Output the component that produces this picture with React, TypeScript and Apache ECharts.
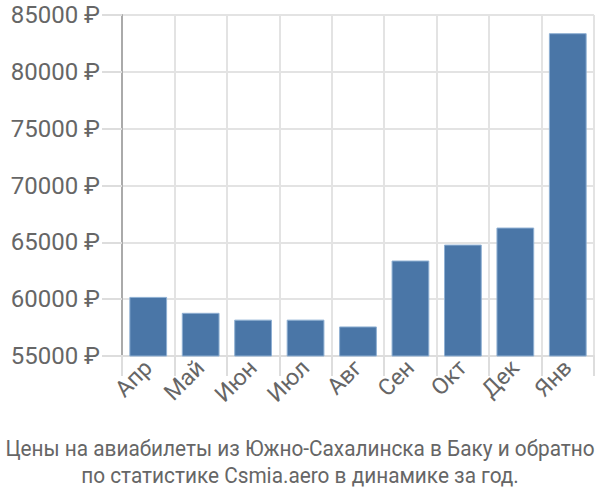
import React, { useEffect, useRef } from "react";
import * as echarts from "echarts";

const categories = ["Апр", "Май", "Июн", "Июл", "Авг", "Сен", "Окт", "Дек", "Янв"];
const prices = [60200, 58800, 58200, 58200, 57600, 63400, 64800, 66300, 83400];
const titleLines = [
  "Цены на авиабилеты из Южно-Сахалинска в Баку и обратно",
  "по статистике Csmia.aero в динамике за год.",
];

export default function App() {
  const ref = useRef<HTMLDivElement>(null);
  useEffect(() => {
    document.body.style.margin = "0";
    if (!ref.current) return;
    const chart = echarts.init(ref.current, null, { renderer: "svg" });
    const titleStyle = {
      fontFamily: "Liberation Sans Narrow, Roboto, sans-serif",
      fontSize: 22,
      fill: "#666",
      textAlign: "center",
      textVerticalAlign: "middle",
    };
    chart.setOption({
      animation: false,
      graphic: [
        {
          type: "text",
          x: 300,
          y: 448,
          scaleX: 0.945,
          style: { ...titleStyle, text: titleLines[0] },
        },
        {
          type: "text",
          x: 300,
          y: 475,
          scaleX: 0.945,
          style: { ...titleStyle, text: titleLines[1] },
        },
      ],
      grid: { left: 122, right: 6, top: 15, bottom: 144 },
      xAxis: {
        type: "category",
        data: categories,
        boundaryGap: true,
        axisLine: { show: true, lineStyle: { color: "#ddd", width: 2 } },
        axisTick: { show: true, length: 20, lineStyle: { color: "#ddd", width: 2 } },
        splitLine: { show: true, lineStyle: { color: "#e3e3e3", width: 2 } },
        axisLabel: {
          rotate: 45,
          margin: 8,
          fontFamily: "Roboto, sans-serif",
          fontSize: 23,
          color: "#666",
        },
      },
      yAxis: {
        type: "value",
        min: 55000,
        max: 85000,
        interval: 5000,
        axisLine: { show: true, lineStyle: { color: "#aaa", width: 2 } },
        axisTick: { show: true, length: 20, lineStyle: { color: "#ddd", width: 2 } },
        splitLine: { show: true, lineStyle: { color: "#e3e3e3", width: 2 } },
        axisLabel: {
          formatter: (v: number) => v + " ₽",
          margin: 22,
          fontFamily: "Roboto, sans-serif",
          fontSize: 24,
          color: "#666",
        },
      },
      series: [
        {
          type: "bar",
          data: prices,
          barWidth: "72%",
          itemStyle: { color: "#4a76a7", borderColor: "#8fb0d3", borderWidth: 1 },
        },
      ],
    });
    return () => chart.dispose();
  }, []);
  return <div ref={ref} style={{ width: 600, height: 500 }} />;
}
